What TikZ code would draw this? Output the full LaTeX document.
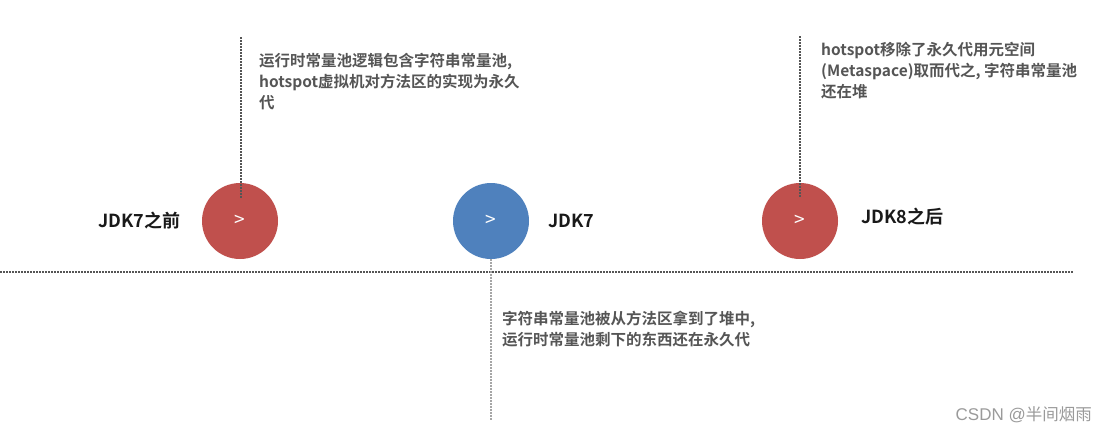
\documentclass[tikz,border=0pt]{standalone}
\usepackage{fontspec}
\setmainfont{Noto Sans CJK SC}
\newfontfamily\cjkb{Noto Sans CJK SC Bold}
\newfontfamily\cjkr{Noto Sans CJK SC}
\newfontfamily\wmlat{Liberation Sans}
\definecolor{cred}{HTML}{C0504D}
\definecolor{cblue}{HTML}{4F81BD}
\definecolor{tgray}{HTML}{555555}
\definecolor{lgray}{HTML}{A6A6A6}
\definecolor{wgray}{HTML}{9A9A9A}
\tikzset{
  dot/.style={circle, minimum size=76pt, inner sep=0pt, text=white, font=\cjkr\fontsize{19}{19}\selectfont},
  desc/.style={anchor=north west, align=left, inner sep=0pt, text=tgray, font=\cjkb\fontsize{15.5}{21}\selectfont},
  label/.style={inner sep=0pt, text=black!90, font=\cjkb\fontsize{18}{18}\selectfont},
  dline/.style={line width=1.5pt, dash pattern=on 1.5pt off 1.5pt, draw=tgray},
  lline/.style={line width=1.5pt, dash pattern=on 1.5pt off 1.5pt, draw=lgray}
}
\begin{document}
\begin{tikzpicture}[x=1pt,y=-1pt]
\useasboundingbox (0,0) rectangle (1107,434);
\coordinate (hl) at (0,272);
\coordinate (hr) at (1073,272);
\draw[dline] (hl) -- (hr);
\node[dot, fill=cred] (c1) at (240,221) {\raisebox{-2.5pt}{>}};
\node[dot, fill=cblue] (c2) at (491,221) {\raisebox{-2.5pt}{>}};
\node[dot, fill=cred] (c3) at (800,221) {\raisebox{-2.5pt}{>}};
\coordinate (t1) at (241,37);
\coordinate (b1) at (241,198);
\coordinate (t3) at (800,36);
\coordinate (b3) at (800,198);
\coordinate (b2) at (491,420);
\draw[dline] (t1) -- (b1);
\draw[dline] (t3) -- (b3);
\draw[lline] (c2.south) -- (b2);
\node[label, anchor=west] (l1) at (98,221) {JDK7之前};
\node[label, anchor=west] (l2) at (548,221) {JDK7};
\node[label, anchor=west] (l3) at (861,217) {JDK8之后};
\node[desc] (d1) at (259,53) {运行时常量池逻辑包含字符串常量池,\\hotspot虚拟机对方法区的实现为永久\\代};
\node[desc] (d3) at (821,42) {hotspot移除了永久代用元空间\\(Metaspace)取而代之, 字符串常量池\\还在堆};
\node[desc] (d2) at (502,311) {字符串常量池被从方法区拿到了堆中,\\运行时常量池剩下的东西还在永久代};
\node[anchor=east, inner sep=0pt, text=wgray, font=\cjkr\fontsize{16.5}{16.5}\selectfont] (wm) at (1092,415) {{\wmlat\fontsize{17}{17}\selectfont CSDN @}半间烟雨};
\end{tikzpicture}
\end{document}
